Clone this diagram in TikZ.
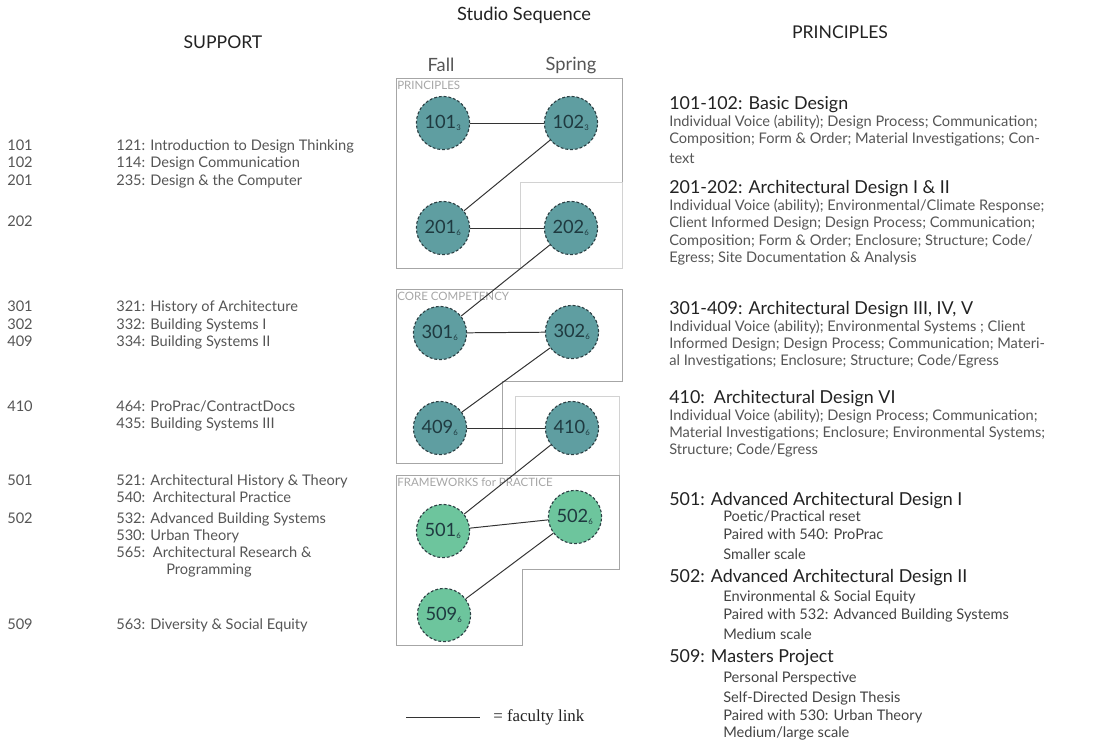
\documentclass[tikz,border=0pt]{standalone}
\usepackage{fontspec}
\setmainfont{Lato}
\newfontfamily\legendfont{Liberation Serif}
\usetikzlibrary{positioning}

\definecolor{studioteal}{HTML}{5F9EA1}
\definecolor{studiogreen}{HTML}{6DC59D}
\definecolor{ringdark}{HTML}{2C4044}
\definecolor{numdark}{HTML}{1F3A40}
\definecolor{boxgray}{HTML}{A6A6A6}
\definecolor{boxlight}{HTML}{D2D2D2}
\definecolor{txtgray}{HTML}{555555}
\definecolor{txtdark}{HTML}{222222}

\newcommand{\crs}[2]{#1\textsubscript{\fontsize{5.5}{5.5}\selectfont #2}}

\tikzset{
  studio/.style={circle,draw=ringdark,fill=#1,dash pattern=on 2pt off 1.4pt,
    line width=0.8pt,minimum size=1.33cm,inner sep=0pt,text=numdark,
    font=\fontsize{13}{13}\selectfont},
  link/.style={draw=black!80,line width=0.7pt},
  zone/.style={draw=boxgray,line width=0.7pt},
  subzone/.style={draw=boxlight,line width=0.7pt},
  zonelabel/.style={anchor=north west,inner sep=0pt,text=boxgray,
    font=\fontsize{8.2}{9}\selectfont},
  head/.style={text=txtdark,font=\fontsize{12.5}{14}\selectfont},
  plain/.style={anchor=base west,inner sep=0pt,yshift=-0.11cm,text=txtgray,
    font=\fontsize{10.4}{12}\selectfont},
  ptitle/.style={anchor=base west,inner sep=0pt,yshift=-0.15cm,text=txtdark,
    font=\fontsize{12.7}{14}\selectfont},
  psub/.style={plain,text=txtdark!85}
}

\begin{document}
\begin{tikzpicture}[x=0.025cm,y=-0.025cm]
\useasboundingbox (0,0) rectangle (1110,744);

% headings
\node[head,font=\fontsize{13}{14}\selectfont] (hstudio) at (524,15) {Studio Sequence};
\node[head] (hsupport) at (223,42) {SUPPORT};
\node[head] (hprin) at (840,32) {PRINCIPLES};
\node[head,text=txtgray,font=\fontsize{13}{14}\selectfont] (hfall) at (441,65) {Fall};
\node[head,text=txtgray,font=\fontsize{13}{14}\selectfont] (hspring) at (571,65) {Spring};

% zones
\draw[zone] (396,78) rectangle (622,268);
\draw[subzone] (520,182) rectangle (622,268);
\draw[zone] (396,289) -- (622,289) -- (622,381) -- (502,381) -- (502,463) -- (396,463) -- cycle;
\draw[subzone] (515,396) rectangle (619,475);
\draw[zone] (396,475) -- (619,475) -- (619,569) -- (522,569) -- (522,645) -- (396,645) -- cycle;
\node[zonelabel] (zp) at (397,81) {PRINCIPLES};
\node[zonelabel] (zc) at (397,292) {CORE COMPETENCY};
\node[zonelabel] (zf) at (397,478) {FRAMEWORKS for PRACTICE};

% studios
\foreach \n/\c/\x/\y/\col in {101/3/443/123/studioteal,102/3/571/123/studioteal,
    201/6/443/228/studioteal,202/6/571/228/studioteal,
    301/6/440/333/studioteal,302/6/572/332/studioteal,
    409/6/440/428/studioteal,410/6/572/428/studioteal,
    501/6/443/531/studiogreen,502/6/575/517/studiogreen,
    509/6/444/615/studiogreen}{
  \node[studio=\col] (s\n) at (\x,\y) {\crs{\n}{\c}};
}

\draw[link] (s101) -- (s102);
\draw[link] (s201) -- (s102);
\draw[link] (s201) -- (s202);
\draw[link] (s202) -- (s301);
\draw[link] (s301) -- (s302);
\draw[link] (s409) -- (s302);
\draw[link] (s409) -- (s410);
\draw[link] (s410) -- (s501);
\draw[link] (s501) -- (s502);
\draw[link] (s509) -- (s502);

% support column
\foreach \n/\y [count=\i] in {101/146,102/163,201/181,202/222,301/307,302/325,
    409/342,410/407,501/481,502/519,509/625}{
  \node[plain] (num\i) at (7,\y) {\n};
}
\foreach \t/\x/\y [count=\i] in {
    {121: Introduction to Design Thinking}/116/146,
    {114: Design Communication}/116/163,
    {235: Design \& the Computer}/116/181,
    {321: History of Architecture}/116/307,
    {332: Building Systems I}/116/325,
    {334: Building Systems II}/116/342,
    {464: ProPrac/ContractDocs}/116/407,
    {435: Building Systems III}/116/424,
    {521: Architectural History \& Theory}/116/481,
    {540:\ \ Architectural Practice}/116/498,
    {532: Advanced Building Systems}/116/519,
    {530: Urban Theory}/116/536,
    {565:\ \ Architectural Research \&}/116/553,
    {Programming}/166/570,
    {563: Diversity \& Social Equity}/116/625}{
  \node[plain] (sup\i) at (\x,\y) {\t};
}

% principles column
\foreach \t/\y [count=\i] in {
    {101-102: Basic Design}/103,
    {201-202: Architectural Design I \& II}/187,
    {301-409: Architectural Design III, IV, V}/308,
    {410:\ \ Architectural Design VI}/397,
    {501: Advanced Architectural Design I}/499,
    {502: Advanced Architectural Design II}/576,
    {509: Masters Project}/656}{
  \node[ptitle] (pt\i) at (669,\y) {\t};
}
\foreach \t/\y [count=\i] in {
    {Individual Voice (ability); Design Process; Communication;}/122,
    {Composition; Form \& Order; Material Investigations; Con-}/139,
    {text}/159,
    {Individual Voice (ability); Environmental/Climate Response;}/206,
    {Client Informed Design; Design Process; Communication;}/223,
    {Composition; Form \& Order; Enclosure; Structure; Code/}/241,
    {Egress; Site Documentation \& Analysis}/258,
    {Individual Voice (ability); Environmental Systems ; Client}/327,
    {Informed Design; Design Process; Communication; Materi-}/344,
    {al Investigations; Enclosure; Structure; Code/Egress}/361,
    {Individual Voice (ability); Design Process; Communication;}/416,
    {Material Investigations; Enclosure; Environmental Systems;}/433,
    {Structure; Code/Egress}/450}{
  \node[plain] (pb\i) at (669,\y) {\t};
}
\foreach \t/\y [count=\i] in {
    {Poetic/Practical reset}/517,
    {Paired with 540: ProPrac}/535,
    {Smaller scale}/555,
    {Environmental \& Social Equity}/597,
    {Paired with 532: Advanced Building Systems}/615,
    {Medium scale}/635,
    {Personal Perspective}/678,
    {Self-Directed Design Thesis}/698,
    {Paired with 530: Urban Theory}/716,
    {Medium/large scale}/733}{
  \node[psub] (ps\i) at (723,\y) {\t};
}

% legend
\coordinate (lga) at (406,717);
\coordinate (lgb) at (480,717);
\draw[link] (lga) -- (lgb);
\node[anchor=west,inner sep=0pt,text=txtdark,font=\legendfont\fontsize{12}{13}\selectfont]
  (lgt) at (493,717) {= faculty link};
\end{tikzpicture}
\end{document}
